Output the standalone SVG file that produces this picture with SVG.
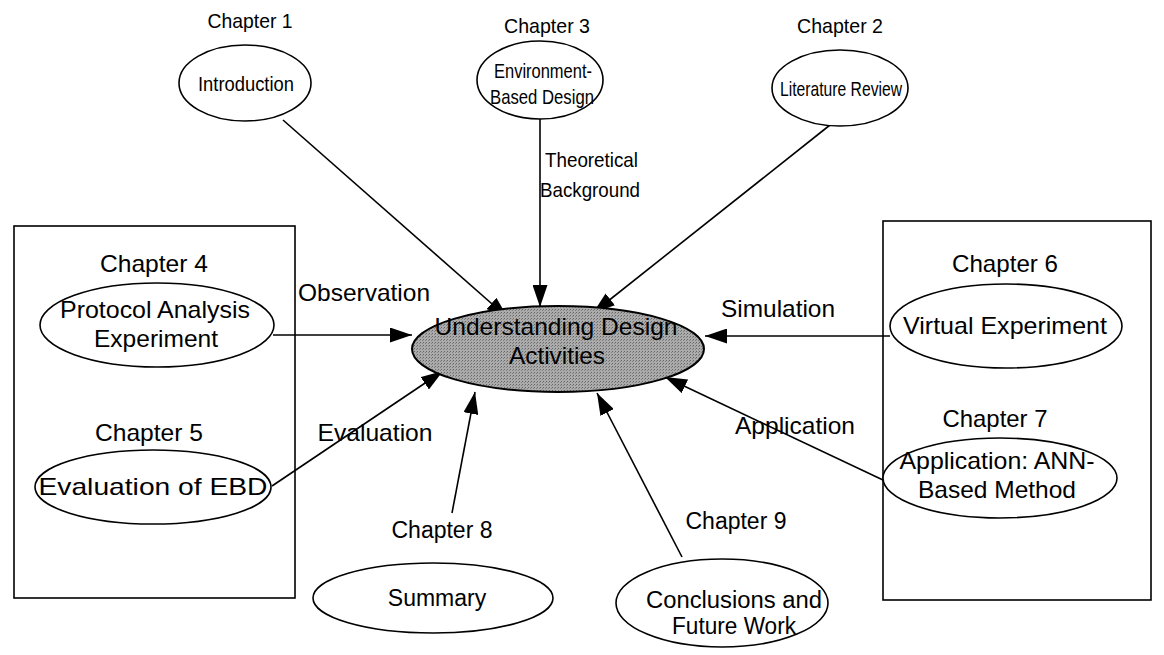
<svg xmlns="http://www.w3.org/2000/svg" width="1164" height="655" viewBox="0 0 1164 655">
<defs>
<marker id="ah" markerUnits="userSpaceOnUse" markerWidth="22" markerHeight="15" viewBox="0 0 22 15" refX="22" refY="7.5" orient="auto">
<path d="M0,0 L22,7.5 L0,15 Z" fill="#000"/>
</marker>
<pattern id="stip" width="3" height="3" patternUnits="userSpaceOnUse">
<rect width="3" height="3" fill="#ababab"/>
<rect width="1" height="1" fill="#666"/>
<rect x="2" y="1" width="1" height="1" fill="#808080"/>
</pattern>
</defs>
<style>
text{font-family:"Liberation Sans",Arial,sans-serif;font-size:24px;fill:#000;text-anchor:middle}
.top{font-size:21px}
.bot{font-size:23px}
.lbl{text-anchor:start}
.node{fill:#fff;stroke:#000;stroke-width:1.6}
.box{fill:none;stroke:#000;stroke-width:1.6}
.conn line{stroke:#000;stroke-width:1.6;marker-end:url(#ah)}
</style>
<rect width="1164" height="655" fill="#fff"/>
<g id="groups">
<rect class="box" x="14" y="226" width="281" height="372"/>
<rect class="box" x="883" y="221" width="268" height="379"/>
</g>
<g class="conn" id="connectors">
<line x1="283" y1="120" x2="508" y2="318"/>
<line x1="540" y1="119" x2="540" y2="307"/>
<line x1="830" y1="125" x2="593" y2="313"/>
<line x1="273" y1="335" x2="412" y2="335"/>
<line x1="272" y1="486" x2="443" y2="371"/>
<line x1="890" y1="336" x2="705" y2="336"/>
<line x1="883" y1="480" x2="665" y2="377"/>
<line x1="452" y1="513" x2="475" y2="392"/>
<line x1="682" y1="557" x2="597" y2="393"/>
</g>
<g id="edge-labels">
<text class="lbl top" x="545" y="167" textLength="93" lengthAdjust="spacingAndGlyphs">Theoretical</text>
<text class="lbl top" x="540" y="197" textLength="100" lengthAdjust="spacingAndGlyphs">Background</text>
<text x="364" y="301" textLength="132" lengthAdjust="spacingAndGlyphs">Observation</text>
<text x="375" y="441" textLength="115" lengthAdjust="spacingAndGlyphs">Evaluation</text>
<text x="778" y="317" textLength="114" lengthAdjust="spacingAndGlyphs">Simulation</text>
<text x="795" y="434" textLength="120" lengthAdjust="spacingAndGlyphs">Application</text>
</g>
<g id="center">
<ellipse cx="558" cy="349" rx="146" ry="43" fill="url(#stip)" stroke="#000" stroke-width="2"/>
<text x="556" y="335" textLength="243" lengthAdjust="spacingAndGlyphs">Understanding Design</text>
<text x="557" y="364" textLength="96" lengthAdjust="spacingAndGlyphs">Activities</text>
</g>
<g id="ch1">
<text class="top" x="250" y="28" textLength="85" lengthAdjust="spacingAndGlyphs">Chapter 1</text>
<ellipse class="node" cx="245" cy="83" rx="66" ry="38"/>
<text class="top" x="246" y="91" textLength="96" lengthAdjust="spacingAndGlyphs">Introduction</text>
</g>
<g id="ch3">
<text class="top" x="547" y="33" textLength="86" lengthAdjust="spacingAndGlyphs">Chapter 3</text>
<ellipse class="node" cx="540" cy="80" rx="63" ry="39"/>
<text class="top" x="543" y="78" textLength="98" lengthAdjust="spacingAndGlyphs">Environment-</text>
<text class="top" x="542" y="104" textLength="104" lengthAdjust="spacingAndGlyphs">Based Design</text>
</g>
<g id="ch2">
<text class="top" x="840" y="33" textLength="86" lengthAdjust="spacingAndGlyphs">Chapter 2</text>
<ellipse class="node" cx="840" cy="88" rx="68" ry="38"/>
<text class="top" x="841" y="96" textLength="122" lengthAdjust="spacingAndGlyphs">Literature Review</text>
</g>
<g id="ch4">
<text x="154" y="272" textLength="108" lengthAdjust="spacingAndGlyphs">Chapter 4</text>
<ellipse class="node" cx="157" cy="325" rx="117" ry="42"/>
<text x="155" y="318" textLength="190" lengthAdjust="spacingAndGlyphs">Protocol Analysis</text>
<text x="156" y="347" textLength="124" lengthAdjust="spacingAndGlyphs">Experiment</text>
</g>
<g id="ch5">
<text x="149" y="441" textLength="108" lengthAdjust="spacingAndGlyphs">Chapter 5</text>
<ellipse class="node" cx="153" cy="487" rx="118" ry="37"/>
<text x="153" y="495" textLength="229" lengthAdjust="spacingAndGlyphs">Evaluation of EBD</text>
</g>
<g id="ch6">
<text x="1005" y="272" textLength="106" lengthAdjust="spacingAndGlyphs">Chapter 6</text>
<ellipse class="node" cx="1006" cy="326" rx="116" ry="42"/>
<text x="1005" y="334" textLength="204" lengthAdjust="spacingAndGlyphs">Virtual Experiment</text>
</g>
<g id="ch7">
<text x="995" y="427" textLength="105" lengthAdjust="spacingAndGlyphs">Chapter 7</text>
<ellipse class="node" cx="1000" cy="478" rx="117" ry="40"/>
<text x="997" y="469" textLength="195" lengthAdjust="spacingAndGlyphs">Application: ANN-</text>
<text x="997" y="498" textLength="158" lengthAdjust="spacingAndGlyphs">Based Method</text>
</g>
<g id="ch8">
<text class="bot" x="442" y="538">Chapter 8</text>
<ellipse class="node" cx="433" cy="598" rx="120" ry="35"/>
<text class="bot" x="437" y="606">Summary</text>
</g>
<g id="ch9">
<text class="bot" x="736" y="529">Chapter 9</text>
<ellipse class="node" cx="722" cy="603" rx="106" ry="44"/>
<text class="bot" x="734" y="608" textLength="176" lengthAdjust="spacingAndGlyphs">Conclusions and</text>
<text class="bot" x="734" y="634" textLength="124" lengthAdjust="spacingAndGlyphs">Future Work</text>
</g>
</svg>
